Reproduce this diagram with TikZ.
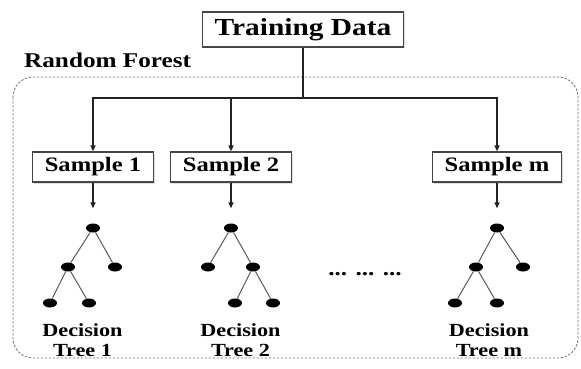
\documentclass[tikz,border=0pt]{standalone}
\usepackage{fontspec}
\setmainfont{Liberation Serif}[FakeStretch=1.2]
\usetikzlibrary{shapes.geometric, arrows.meta, positioning, calc, shadows}
\definecolor{boxgray}{RGB}{70, 70, 70}
\definecolor{linegray}{RGB}{35, 35, 35}
\definecolor{forestgray}{RGB}{125, 125, 125}
\tikzset{
    databox/.style={rectangle, draw=boxgray, fill=white, line width=1.2pt,
                    inner xsep=12pt, minimum height=35pt,
                    font=\fontsize{24.5}{26}\selectfont\bfseries,
                    drop shadow={opacity=0.25, shadow xshift=1.5pt, shadow yshift=-1.5pt}},
    samplebox/.style={rectangle, draw=boxgray, fill=white, line width=1.2pt,
                      inner xsep=12pt, minimum height=30pt,
                      font=\fontsize{20.5}{22}\selectfont\bfseries,
                      drop shadow={opacity=0.25, shadow xshift=1.5pt, shadow yshift=-1.5pt}},
    leaf/.style={ellipse, fill=black, minimum width=14pt, minimum height=9pt,
                 inner sep=0pt},
    branch/.style={line width=1pt, color=linegray!75},
    link/.style={line width=1.5pt, color=linegray},
    arr/.style={line width=1.5pt, -{Triangle[length=6pt, width=5pt]}, color=linegray},
    treelabel/.style={align=center, font=\fontsize{18.5}{20.5}\selectfont\bfseries},
}

\begin{document}
\begin{tikzpicture}[x=1pt, y=-1pt]
    \useasboundingbox (0,0) rectangle (581,369);

    % forest frame
    \draw[forestgray, line width=0.9pt, dash pattern=on 2.5pt off 1.5pt,
          rounded corners=20pt] (13,77) rectangle (578,358);
    \node[anchor=base west, inner sep=0pt,
          font=\fontsize{21}{23}\selectfont\bfseries] (rf) at (24,67) {Random Forest};

    \node[databox] (train) at (303,29.5) {Training Data};
    \coordinate (split) at (303,98);

    \node[samplebox] (s1) at (93,167) {Sample 1};
    \node[samplebox] (s2) at (231,167) {Sample 2};
    \node[samplebox] (sm) at (497,167) {Sample m};

    \draw[link] (train) -- (split);
    \draw[arr] (split) -| (s1);
    \draw[arr] (split) -| (s2);
    \draw[arr] (split) -| (sm);

    % tree 1
    \node[leaf] (t1r) at (93,228) {};
    \node[leaf] (t1a) at (68,267) {};
    \node[leaf] (t1b) at (115,267) {};
    \node[leaf] (t1c) at (50,303) {};
    \node[leaf] (t1d) at (89,303) {};
    \draw[branch] (t1r) -- (t1a);
    \draw[branch] (t1r) -- (t1b);
    \draw[branch] (t1a) -- (t1c);
    \draw[branch] (t1a) -- (t1d);

    % tree 2
    \node[leaf] (t2r) at (231,228) {};
    \node[leaf] (t2a) at (208,267) {};
    \node[leaf] (t2b) at (253,267) {};
    \node[leaf] (t2c) at (235,303) {};
    \node[leaf] (t2d) at (273,303) {};
    \draw[branch] (t2r) -- (t2a);
    \draw[branch] (t2r) -- (t2b);
    \draw[branch] (t2b) -- (t2c);
    \draw[branch] (t2b) -- (t2d);

    % tree m
    \node[leaf] (tmr) at (497,228) {};
    \node[leaf] (tma) at (476,267) {};
    \node[leaf] (tmb) at (523,267) {};
    \node[leaf] (tmc) at (455,303) {};
    \node[leaf] (tmd) at (497,303) {};
    \draw[branch] (tmr) -- (tma);
    \draw[branch] (tmr) -- (tmb);
    \draw[branch] (tma) -- (tmc);
    \draw[branch] (tma) -- (tmd);

    \draw[arr, shorten >=15pt] (s1) -- (t1r);
    \draw[arr, shorten >=15pt] (s2) -- (t2r);
    \draw[arr, shorten >=15pt] (sm) -- (tmr);

    \node[anchor=base, font=\fontsize{21}{23}\selectfont\bfseries] (dots) at (365,275) {... ... ...};

    \node[treelabel] (l1) at (82.5,340) {Decision\\Tree 1};
    \node[treelabel] (l2) at (240.5,340) {Decision\\Tree 2};
    \node[treelabel] (lm) at (489,340) {Decision\\Tree m};
\end{tikzpicture}
\end{document}
